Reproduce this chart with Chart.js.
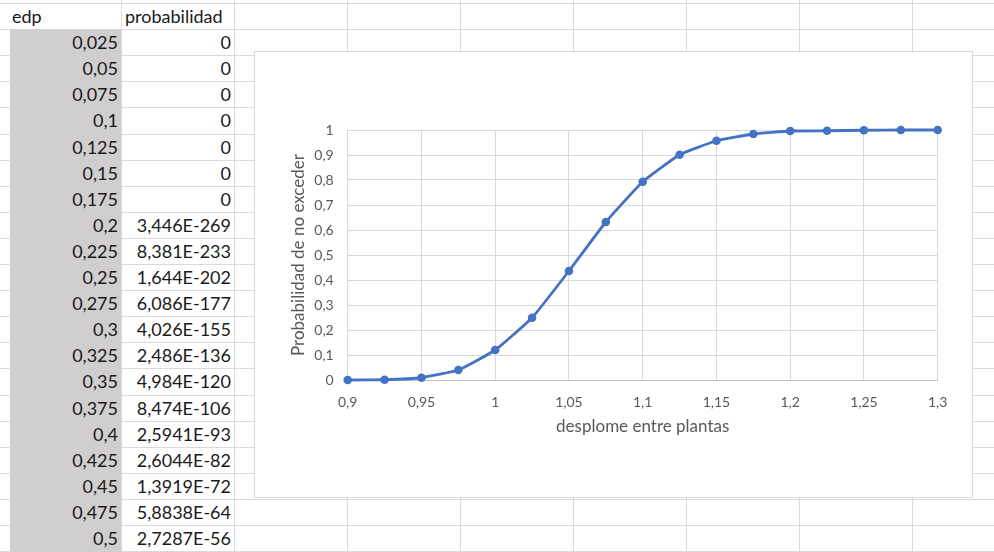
<!DOCTYPE html>
<html>
<head>
<meta charset="utf-8">
<script src="https://cdn.jsdelivr.net/npm/chart.js@4.4.0/dist/chart.umd.min.js"></script>
<style>
  html, body { margin:0; padding:0; background:#fff; }
  body { width:994px; height:552px; position:relative; overflow:hidden; font-family: Lato, "Open Sans", sans-serif; }
  .hl { position:absolute; height:1px; background:#dadada; }
  .vl { position:absolute; width:1px; background:#dadada; }
  .cell { position:absolute; font-size:18px; color:#1a1a1a; line-height:26px; white-space:nowrap; }
  #grey { position:absolute; left:10px; top:29px; width:111px; height:523px; background:#d0cece; }
  #wrap { position:absolute; left:254px; top:51px; width:717px; height:445px; border:1px solid #d9d9d9; background:#fff; }
  #wrap canvas { display:block; }
</style>
</head>
<body>
<div id="sheet"></div>
<div id="grey"></div>
<div id="cells"></div>
<div id="wrap"><canvas id="c" width="717" height="445"></canvas></div>
<script>
// ---- spreadsheet text ----
const headers = ["edp", "probabilidad"];
const tableEdp = ["0,025","0,05","0,075","0,1","0,125","0,15","0,175","0,2","0,225","0,25","0,275","0,3","0,325","0,35","0,375","0,4","0,425","0,45","0,475","0,5"];
const tableProb = ["0","0","0","0","0","0","0","3,446E-269","8,381E-233","1,644E-202","6,086E-177","4,026E-155","2,486E-136","4,984E-120","8,474E-106","2,5941E-93","2,6044E-82","1,3919E-72","5,8838E-64","2,7287E-56"];

// ---- chart data ----
const edp = [0.9, 0.925, 0.95, 0.975, 1.0, 1.025, 1.05, 1.075, 1.1, 1.125, 1.15, 1.175, 1.2, 1.225, 1.25, 1.275, 1.3];
const probabilidad = [0.0, 0.001, 0.009, 0.04, 0.12, 0.249, 0.436, 0.632, 0.793, 0.901, 0.957, 0.984, 0.996, 0.997, 0.999, 1.0, 1.0];
const xTitle = "desplome entre plantas";
const yTitle = "Probabilidad de no exceder";

// ---- draw sheet grid ----
const sheet = document.getElementById('sheet');
const rowH = 26.1, row0 = 3;
for (let k = 0; k < 22; k++) {
  const d = document.createElement('div');
  d.className = 'hl';
  d.style.top = Math.round(row0 + k * rowH) + 'px';
  d.style.left = '0px'; d.style.width = '994px';
  sheet.appendChild(d);
}
const colLines = [121, 234, 347, 460, 573, 686, 799, 912];
colLines.forEach(x => {
  const d = document.createElement('div');
  d.className = 'vl';
  d.style.left = x + 'px'; d.style.top = '0px'; d.style.height = '552px';
  sheet.appendChild(d);
});
const cells = document.getElementById('cells');
function addCell(text, left, right, top, align) {
  const d = document.createElement('div');
  d.className = 'cell';
  d.textContent = text;
  d.style.top = top + 'px';
  if (align === 'left') { d.style.left = left + 'px'; }
  else { d.style.right = (994 - right) + 'px'; }
  cells.appendChild(d);
}
addCell(headers[0], 12, 0, Math.round(row0) , 'left');
addCell(headers[1], 125, 0, Math.round(row0), 'left');
for (let i = 0; i < tableEdp.length; i++) {
  const top = Math.round(row0 + (i + 1) * rowH);
  addCell(tableEdp[i], 0, 118, top, 'right');
  addCell(tableProb[i], 0, 231, top, 'right');
}

// ---- chart ----
const fmt = v => String(Math.round(v * 1000) / 1000).replace('.', ',');
const tickColor = '#595959';
new Chart(document.getElementById('c').getContext('2d'), {
  type: 'line',
  data: {
    datasets: [{
      data: edp.map((x, i) => ({ x: x, y: probabilidad[i] })),
      borderColor: '#4472C4',
      backgroundColor: '#4472C4',
      borderWidth: 2.8,
      pointRadius: 4.3,
      pointBorderWidth: 0,
      pointHoverRadius: 4.3,
      tension: 0.12,
      clip: false,
      fill: false
    }]
  },
  options: {
    responsive: false,
    animation: false,
    events: [],
    layout: { padding: { left: 0, top: 78, right: 34.3, bottom: 0 } },
    plugins: { legend: { display: false }, tooltip: { enabled: false } },
    scales: {
      x: {
        type: 'linear', min: 0.9, max: 1.3,
        ticks: { stepSize: 0.05, callback: v => fmt(v), color: tickColor, padding: 14, maxRotation: 0,
                 font: { family: 'Lato', size: 14 } },
        grid: { color: '#d9d9d9', drawTicks: false, lineWidth: 1 },
        border: { color: '#bfbfbf' },
        title: { display: true, text: xTitle, color: tickColor, font: { family: 'Lato', size: 17 },
                 padding: { top: 0, bottom: 60 } },
        afterFit: s => { s.height = 117; }
      },
      y: {
        type: 'linear', min: 0, max: 1,
        ticks: { stepSize: 0.1, callback: v => fmt(v), color: tickColor, padding: 14,
                 font: { family: 'Lato', size: 14 } },
        grid: { color: '#d9d9d9', drawTicks: false, lineWidth: 1 },
        border: { color: '#d9d9d9' },
        title: { display: true, text: yTitle, color: tickColor, font: { family: 'Lato', size: 17 },
                 padding: { top: 33, bottom: 0 } },
        afterFit: s => { s.width = 92.7; }
      }
    }
  }
});
</script>
</body>
</html>
